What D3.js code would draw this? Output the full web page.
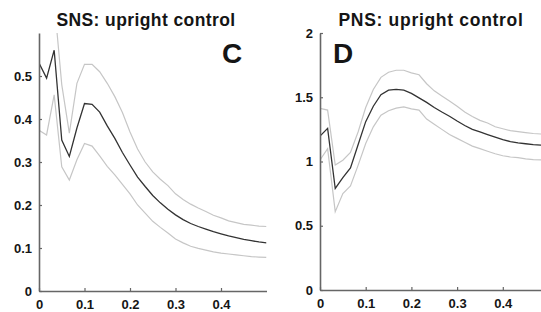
<!DOCTYPE html>
<html>
<head>
<meta charset="utf-8">
<script src="https://d3js.org/d3.v7.min.js"></script>
<style>
body { margin: 0; background: #fff; }
svg { display: block; }
.tick text, .ttl, .lbl { font-family: "Liberation Sans", Arial, sans-serif; font-weight: bold; fill: #151515; }
</style>
</head>
<body>
<svg width="541" height="312"></svg>
<script>

// frequency grid, steps of 1/60 from 0 to 0.5
let freq = d3.range(31).map(i => i / 60);

// SNS: upright control (panel C)
let snsMean = [0.530, 0.495, 0.560, 0.351, 0.313, 0.379, 0.436, 0.434, 0.416, 0.384,
  0.355, 0.322, 0.293, 0.265, 0.243, 0.222, 0.205, 0.190, 0.177, 0.166,
  0.157, 0.150, 0.144, 0.138, 0.133, 0.128, 0.124, 0.120, 0.117, 0.114, 0.112];
let snsUpper = [0.680, 0.630, 0.675, 0.480, 0.367, 0.483, 0.527, 0.527, 0.510, 0.483,
  0.452, 0.415, 0.370, 0.330, 0.300, 0.277, 0.260, 0.245, 0.226, 0.213,
  0.202, 0.193, 0.185, 0.176, 0.170, 0.163, 0.159, 0.155, 0.153, 0.151, 0.150];
let snsLower = [0.374, 0.363, 0.456, 0.289, 0.258, 0.305, 0.343, 0.337, 0.314, 0.290,
  0.270, 0.248, 0.226, 0.200, 0.181, 0.162, 0.148, 0.135, 0.121, 0.112,
  0.104, 0.099, 0.095, 0.091, 0.088, 0.086, 0.084, 0.082, 0.080, 0.079, 0.078];

// PNS: upright control (panel D)
let pnsMean = [1.198, 1.258, 0.790, 0.875, 0.950, 1.130, 1.310, 1.430, 1.520, 1.555,
  1.562, 1.555, 1.530, 1.495, 1.460, 1.420, 1.385, 1.352, 1.315, 1.280,
  1.250, 1.230, 1.210, 1.190, 1.170, 1.155, 1.145, 1.138, 1.132, 1.128, 1.125];
let pnsUpper = [1.414, 1.400, 0.973, 1.010, 1.070, 1.230, 1.420, 1.560, 1.655, 1.695,
  1.710, 1.710, 1.690, 1.675, 1.605, 1.550, 1.510, 1.470, 1.430, 1.385,
  1.350, 1.320, 1.300, 1.270, 1.255, 1.240, 1.232, 1.225, 1.218, 1.214, 1.210];
let pnsLower = [1.012, 1.100, 0.610, 0.750, 0.810, 0.970, 1.140, 1.270, 1.360, 1.395,
  1.415, 1.425, 1.410, 1.400, 1.330, 1.290, 1.250, 1.210, 1.180, 1.150,
  1.120, 1.100, 1.080, 1.060, 1.045, 1.035, 1.030, 1.020, 1.015, 1.012, 1.010];

let xTicks = [0, 0.1, 0.2, 0.3, 0.4];
let snsYTicks = [0, 0.1, 0.2, 0.3, 0.4, 0.5];
let pnsYTicks = [0, 0.5, 1, 1.5, 2];

let svg = d3.select("svg");

function drawPanel(p) {
  let x = d3.scaleLinear().domain([0, 0.5]).range(p.xr);
  let y = d3.scaleLinear().domain(p.yd).range(p.yr);
  let g = svg.append("g");

  g.append("clipPath").attr("id", p.id)
    .append("rect")
    .attr("x", p.xr[0]).attr("y", p.yr[1])
    .attr("width", p.xr[1] - p.xr[0]).attr("height", p.yr[0] - p.yr[1]);

  let line = d3.line().x((d, i) => x(freq[i])).y(d => y(d));

  let plot = g.append("g").attr("clip-path", "url(#" + p.id + ")");
  [p.upper, p.lower].forEach(s => {
    plot.append("path").datum(s)
      .attr("d", line)
      .attr("fill", "none")
      .attr("stroke", "#c6c6c6")
      .attr("stroke-width", 1.2);
  });
  plot.append("path").datum(p.mean)
    .attr("d", line)
    .attr("fill", "none")
    .attr("stroke", "#333")
    .attr("stroke-width", 1.3);

  let xa = g.append("g")
    .attr("transform", "translate(0," + p.yr[0] + ")")
    .call(d3.axisBottom(x).tickValues(xTicks).tickFormat(d3.format("")).tickSizeInner(-3).tickSizeOuter(0).tickPadding(9));
  let ya = g.append("g")
    .attr("transform", "translate(" + p.xr[0] + ",0)")
    .call(d3.axisLeft(y).tickValues(p.yTicks).tickFormat(d3.format("")).tickSizeInner(-3).tickSizeOuter(0).tickPadding(7));

  [xa, ya].forEach(a => {
    a.select(".domain").attr("stroke", "#666").attr("stroke-width", 1.6);
    a.selectAll(".tick line").attr("stroke", "#666").attr("stroke-width", 1.2);
    a.selectAll(".tick text").style("font-size", "13px");
  });

  g.append("text").attr("class", "ttl")
    .attr("x", p.tx).attr("y", 26)
    .attr("text-anchor", "middle")
    .style("font-size", "17.5px")
    .style("letter-spacing", p.ls + "px")
    .text(p.title);

  g.append("text").attr("class", "lbl")
    .attr("x", p.lx).attr("y", 63)
    .style("font-size", "28px")
    .text(p.letter);
}

drawPanel({
  id: "clipC", xr: [39, 266.5], yd: [0, 0.6], yr: [291, 33],
  mean: snsMean, upper: snsUpper, lower: snsLower, yTicks: snsYTicks,
  title: "SNS: upright control", tx: 146, ls: 0.4, letter: "C", lx: 222
});

drawPanel({
  id: "clipD", xr: [320, 548.5], yd: [0, 2], yr: [290, 33],
  mean: pnsMean, upper: pnsUpper, lower: pnsLower, yTicks: pnsYTicks,
  title: "PNS: upright control", tx: 431, ls: 0.7, letter: "D", lx: 333
});

</script>
</body>
</html>
